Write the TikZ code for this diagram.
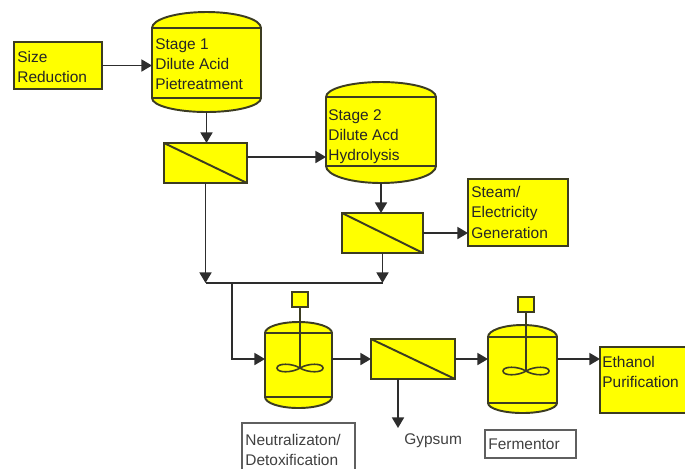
\documentclass[tikz,border=0pt]{standalone}
\usepackage{fontspec}
\setmainfont{Liberation Sans}
\usetikzlibrary{arrows.meta,calc}

\definecolor{unityellow}{RGB}{255,255,0}
\definecolor{edgeolive}{RGB}{60,60,34}
\definecolor{pipegray}{RGB}{45,45,45}
\definecolor{tagframe}{RGB}{95,95,95}

\tikzset{
  x=0.02cm, y=-0.02cm,
  unitbox/.style={draw=edgeolive, fill=unityellow, line width=1.1pt, inner sep=0pt, outer sep=0pt},
  filterbox/.style={unitbox, path picture={\draw[edgeolive, line width=1.1pt]
      (path picture bounding box.north west) -- (path picture bounding box.south east);}},
  tagbox/.style={draw=tagframe, line width=0.9pt, inner sep=0pt, outer sep=0pt},
  anchorbox/.style={inner sep=0pt, outer sep=0pt},
  vesselbody/.style={draw=edgeolive, fill=unityellow, line width=1.1pt},
  vesselseam/.style={draw=edgeolive, line width=1.1pt},
  boxtext/.style={font=\fontsize{8.8}{11.6}\selectfont, align=left, inner sep=0pt,
      anchor=north west, text=black!85},
  tagtext/.style={boxtext, text=black!75},
  flow/.style={draw=pipegray, line width=1pt, -{Triangle[length=6pt,width=6.8pt]}},
  pipe/.style={draw=pipegray, line width=1pt},
  shaft/.style={draw=edgeolive, line width=0.9pt},
  paddle/.style={draw=edgeolive, line width=0.9pt},
}

% rectangular unit given by its corners: name, x1, y1, x2, y2, style
\newcommand\cornerbox[6]{%
  \pgfmathsetmacro\cbW{(#4-#2)*0.02}%
  \pgfmathsetmacro\cbH{(#5-#3)*0.02}%
  \node[#6, minimum width=\cbW cm, minimum height=\cbH cm] (#1)
    at ({(#2+#4)/2},{(#3+#5)/2}) {};}

% domed vessel: name, x1, x2, dome top, upper seam, lower seam, dome bottom
\newcommand\domedvessel[7]{%
  \pgfmathsetmacro\dvMid{(#2+#3)/2}%
  \pgfmathsetmacro\dvKx{0.5523*(#3-#2)/2}%
  \pgfmathsetmacro\dvCapT{#5-0.5523*(#5-#4)}%
  \pgfmathsetmacro\dvCapB{#6+0.5523*(#7-#6)}%
  \pgfmathsetmacro\dvW{(#3-#2)*0.02}%
  \pgfmathsetmacro\dvH{(#7-#4)*0.02}%
  \path[vesselbody] (#2,#5) .. controls (#2,\dvCapT) and ({\dvMid-\dvKx},#4) .. (\dvMid,#4)
     .. controls ({\dvMid+\dvKx},#4) and (#3,\dvCapT) .. (#3,#5)
     -- (#3,#6) .. controls (#3,\dvCapB) and ({\dvMid+\dvKx},#7) .. (\dvMid,#7)
     .. controls ({\dvMid-\dvKx},#7) and (#2,\dvCapB) .. (#2,#6) -- cycle;
  \draw[vesselseam] (#2,#5) -- (#3,#5) (#2,#6) -- (#3,#6);
  \node[anchorbox, minimum width=\dvW cm, minimum height=\dvH cm] (#1)
    at (\dvMid,{(#4+#7)/2}) {};}

% two-blade impeller centred on a named coordinate
\newcommand\impeller[1]{%
  \draw[paddle] (#1) .. controls ($(#1)+(-8,-5)$) and ($(#1)+(-23,-5)$) .. ($(#1)+(-23,0)$)
     .. controls ($(#1)+(-23,5)$) and ($(#1)+(-8,5)$) .. (#1);
  \draw[paddle] (#1) .. controls ($(#1)+(8,-5)$) and ($(#1)+(23,-5)$) .. ($(#1)+(23,0)$)
     .. controls ($(#1)+(23,5)$) and ($(#1)+(8,5)$) .. (#1);}

\begin{document}
\begin{tikzpicture}
\useasboundingbox (0,0) rectangle (685,468);

% ---- units ----
\cornerbox{sr}{14}{42}{102}{89}{unitbox}
\domedvessel{s1}{152}{261}{12}{28}{98}{112}
\cornerbox{f1}{164}{143}{247}{183}{filterbox}
\domedvessel{s2}{326}{436}{82}{97}{166}{183}
\cornerbox{f2}{342}{213}{423}{253}{filterbox}
\cornerbox{st}{468}{179}{568}{246}{unitbox}

% neutralization tank with agitator
\domedvessel{nt}{265}{332}{322}{333}{397}{408}
\cornerbox{m1}{292}{292}{308}{307}{unitbox}
\coordinate (imp1) at (300,368);
\draw[shaft] (m1.south) -- (imp1);
\impeller{imp1}

\cornerbox{f3}{371}{339}{455}{379}{filterbox}

% fermentor with agitator
\domedvessel{fm}{488}{557}{325}{337}{403}{413}
\cornerbox{m2}{518}{297}{534}{312}{unitbox}
\coordinate (imp2) at (526,371);
\draw[shaft] (m2.south) -- (imp2);
\impeller{imp2}

\cornerbox{et}{600}{347}{700}{413}{unitbox}

% caption frames
\cornerbox{nlab}{242}{423}{355}{490}{tagbox}
\cornerbox{flab}{485}{430}{576}{458}{tagbox}

% ---- texts ----
\node[boxtext] (srtext) at (17,51) {Size\\Reduction};
\node[boxtext] (s1text) at (155,38) {Stage 1\\Dilute Acid\\Pietreatment};
\node[boxtext] (s2text) at (328,109) {Stage 2\\Dilute Acd\\Hydrolysis};
\node[boxtext] (sttext) at (471,186) {Steam/\\Electricity\\Generation};
\node[boxtext] (ettext) at (602,356) {Ethanol\\Purification};
\node[tagtext, font=\fontsize{8.8}{11.2}\selectfont] (ntext) at (245,434) {Neutralizaton/\\Detoxification};
\node[tagtext] (gypsum) at (404,433) {Gypsum};
\node[tagtext] (ftext) at (488,438) {Fermentor};

% ---- connectors ----
\draw[flow] (sr.east) -- (sr.east -| s1.west);
\draw[flow] (s1.south) -- (s1.south |- f1.north);
\coordinate (f1out) at (247,157);
\draw[flow] (f1out) -- (f1out -| s2.west);
\draw[flow] (s2.south) -- (s2.south |- f2.north);
\draw[flow] (f2.east) -- (f2.east -| st.west);

% collecting line below the two filters
\coordinate (bus) at (232,283);
\draw[flow] (f1.south) -- (f1.south |- bus);
\draw[flow] (f2.south) -- (f2.south |- bus);
\draw[pipe] (f1.south |- bus) -- (f2.south |- bus);
\draw[flow] (bus) -- (bus |- f3.west) -- (nt.west |- f3.west);

\draw[flow] (nt.east |- f3.west) -- (f3.west);
\draw[flow] (f3.east) -- (f3.east -| fm.west);
\draw[flow] (fm.east |- f3.east) -- (f3.east -| et.west);

\coordinate (gypout) at (398,428);
\draw[flow] (f3.south -| gypout) -- (gypout);
\end{tikzpicture}
\end{document}
